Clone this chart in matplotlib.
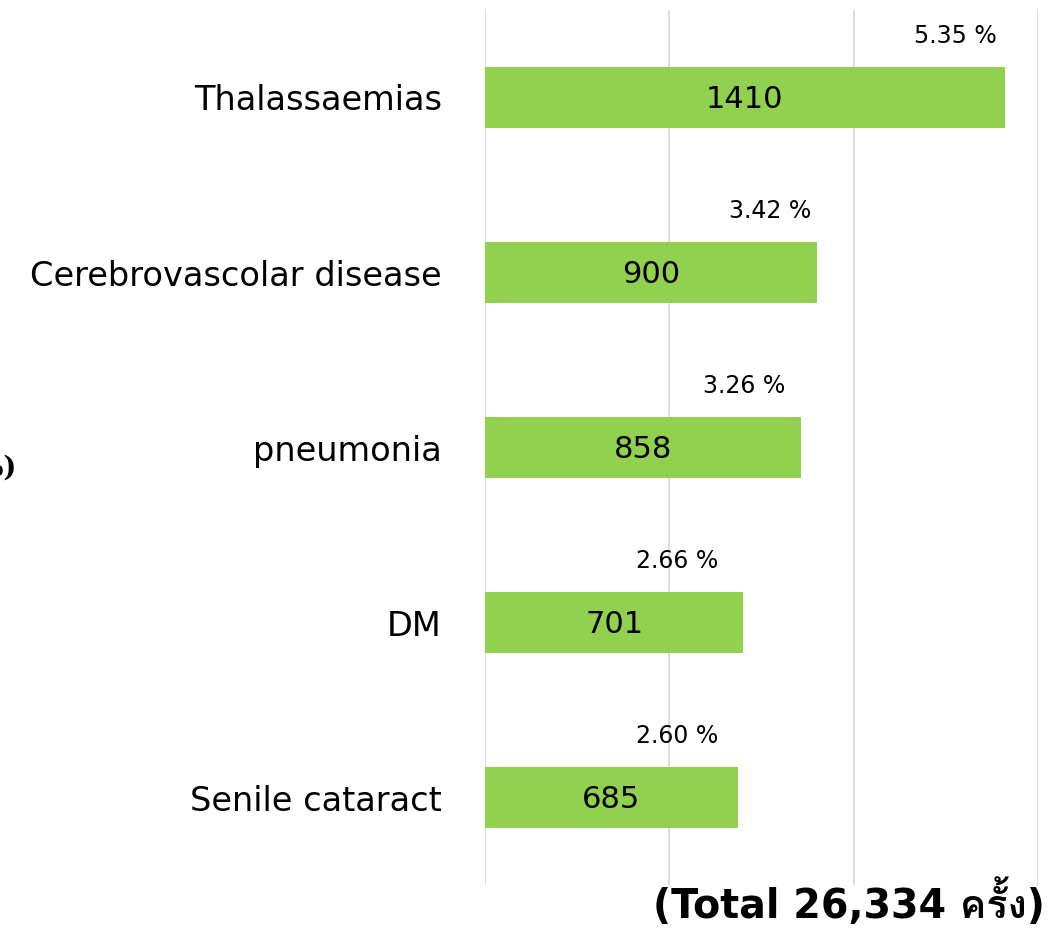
import matplotlib
matplotlib.use("Agg")
import matplotlib.pyplot as plt
from matplotlib import font_manager
from matplotlib.ft2font import FT2Font

# data
diseases = ["Thalassaemias", "Cerebrovascolar disease", "pneumonia", "DM", "Senile cataract"]
counts = [1410, 900, 858, 701, 685]
percents = ["5.35 %", "3.42 %", "3.26 %", "2.66 %", "2.60 %"]
total_label = "(Total 26,334 ครั้ง)"

# layout only: right edge of the % labels, in data units
pct_right = [1389, 884, 814, 632, 632]


def find_thai_font():
    # look for any installed font that has Thai glyphs
    for f in font_manager.fontManager.ttflist:
        try:
            ft = FT2Font(f.fname)
            if ft.get_char_index(ord("ค")) and ft.get_char_index(ord("ั")):
                return f.name
        except Exception:
            continue
    return None


thai = find_thai_font()
fams = ["DejaVu Sans"]
if thai:
    fams.append(thai)
plt.rcParams["font.family"] = fams

fig = plt.figure(figsize=(10.64, 9.30), dpi=100)
ax = fig.add_axes([485 / 1064, 45 / 930, 553 / 1064, 875 / 930])

y = list(range(len(diseases)))
bars = ax.barh(y, counts, height=0.35, color="#92D050", zorder=2)

ax.set_xlim(0, 1500)
ax.set_ylim(4.5, -0.5)
ax.set_xticks([0, 500, 1000, 1500])
ax.xaxis.grid(True, color="#D9D9D9", linewidth=1.3, zorder=0)
ax.tick_params(axis="x", length=0, labelbottom=False)
ax.set_yticks(y)
ax.set_yticklabels(diseases, fontsize=24.2)
ax.tick_params(axis="y", length=0, pad=31)
for s in ax.spines.values():
    s.set_visible(False)

for i, (b, c) in enumerate(zip(bars, counts)):
    ax.text(b.get_width() / 2, i + 0.01, str(c), ha="center", va="center",
            fontsize=22, color="black", zorder=3)
    ax.text(pct_right[i], i - 0.35, percents[i], ha="right", va="center",
            fontsize=17, color="black")

fig.text(1045 / 1064, 27 / 930, total_label, ha="right", va="center",
         fontsize=28.5, fontweight="bold")

# clipped leftover text at the left edge
fig.text(17 / 1064, 462 / 930, "(%)", ha="right", va="center",
         fontsize=20, fontweight="bold", family="DejaVu Serif")

fig.savefig("out.png", dpi=100)
